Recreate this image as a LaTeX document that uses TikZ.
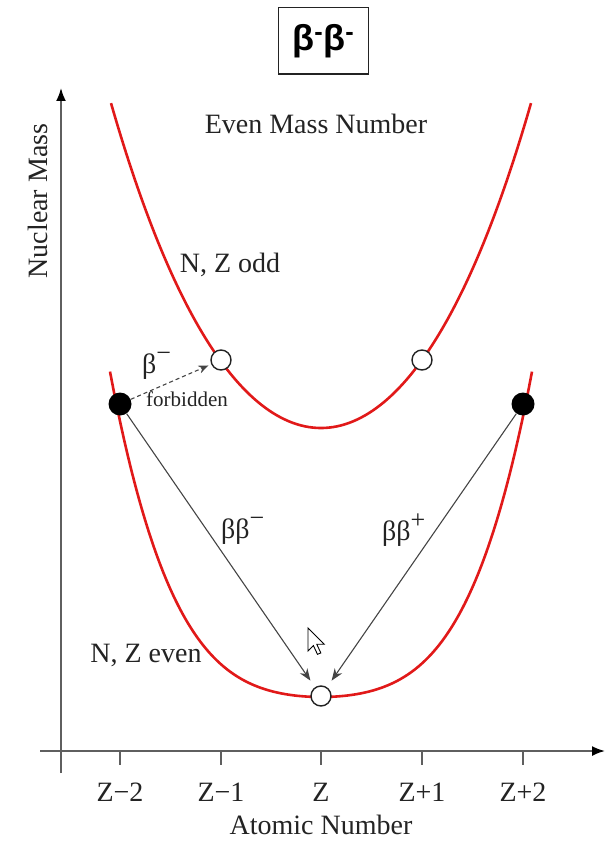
\documentclass[tikz,border=0pt]{standalone}
\usepackage{fontspec}
\setmainfont{Liberation Serif}
\newfontfamily\titlefont{Liberation Sans}
\usetikzlibrary{arrows.meta}
\definecolor{ink}{RGB}{35,35,35}
\definecolor{axisgray}{RGB}{95,95,95}
\definecolor{curvered}{RGB}{225,25,25}
\newcommand{\supminus}{\raisebox{0.42em}{\fontsize{26}{26}\selectfont −}}
\newcommand{\supplus}{\raisebox{0.42em}{\fontsize{26}{26}\selectfont +}}
\begin{document}
\begin{tikzpicture}[x=1pt,y=-1pt,
  txt/.style={text=ink, font=\fontsize{28}{32}\selectfont, inner sep=0pt},
  smalltxt/.style={text=ink, font=\fontsize{21}{24}\selectfont, inner sep=0pt},
  curve/.style={draw=curvered, line width=2.6pt},
  axisline/.style={draw=axisgray, line width=1.8pt},
  opendot/.style={circle, draw=ink, line width=1.4pt, fill=white, minimum size=20pt, inner sep=0pt},
  filldot/.style={circle, fill=black, minimum size=23pt, inner sep=0pt},
  decayarrow/.style={draw=ink!85, line width=1.1pt, -{Stealth[length=12pt,width=9pt]}, shorten >=8pt},
  forbarrow/.style={draw=ink!85, line width=1.1pt, dashed, dash pattern=on 4pt off 3pt, -{Stealth[length=10pt,width=8pt]}, shorten >=3pt},
]
\useasboundingbox (0,0) rectangle (609,842);

% title
\node[draw=ink, line width=1.3pt, minimum width=90pt, minimum height=66.7pt, inner sep=0pt] (title) at (323.3,40.7)
  {\titlefont\bfseries\fontsize{36}{40}\selectfont β\textsuperscript{-}β\textsuperscript{-}};

% axes
\coordinate (yb) at (61,773);
\coordinate (yt) at (61,88);
\coordinate (xl) at (40,751);
\coordinate (xr) at (605,751);
\draw[axisline, -{Latex[length=13pt,width=10pt,color=black]}] (yb) -- (yt);
\draw[axisline, -{Latex[length=13pt,width=10pt,color=black]}] (xl) -- (xr);
\foreach \tx/\tl in {120/Z−2, 221/Z−1, 321/Z, 422/Z+1, 523/Z+2}{
  \draw[axisline, line width=1.4pt] (\tx,751) -- (\tx,765);
  \node[txt] (tick\tx) at (\tx,792) {\tl};
}
\node[txt] (xlabel) at (321,825) {Atomic Number};
\node[txt, rotate=90] (ylabel) at (38,201) {Nuclear Mass};

% curves
\draw[curve] plot[domain=-2.10:2.10, samples=120, smooth] ({321+100*\x}, {428-64.54*\x*\x-2.07*\x*\x*\x*\x});
\draw[curve] plot[domain=-2.11:2.11, samples=120, smooth] ({321+100*\x}, {697-21*\x*\x-11.7*\x*\x*\x*\x});

% labels
\node[txt] (evenmass) at (316,124) {Even Mass Number};
\node[txt] (oddlbl) at (230,265) {N, Z odd};
\node[txt] (evenlbl) at (146,655) {N, Z even};
\node[txt, anchor=west] (betaminus) at (142,366) {β\supminus};
\node[smalltxt] (forbidden) at (187,399) {forbidden};
\node[txt, anchor=west] (bbminus) at (221,531) {ββ\supminus};
\node[txt, anchor=west] (bbplus) at (382,530) {ββ\supplus};

% nuclei
\node[opendot] (om1) at (221,360) {};
\node[opendot] (op1) at (422,360) {};
\node[opendot] (o0) at (321,696) {};
\node[filldot] (fm2) at (120,404) {};
\node[filldot] (fp2) at (523,404) {};

% decays
\draw[decayarrow] (fm2) -- (o0);
\draw[decayarrow] (fp2) -- (o0);
\draw[forbarrow] (fm2) -- (om1);

% mouse pointer
\draw[fill=white, draw=black, line width=0.9pt, shift={(308,628)}, scale=1.35]
  (0,0) -- (0,17) -- (4,13) -- (7,19.5) -- (9.5,18.5) -- (6.5,12) -- (12,12) -- cycle;
\end{tikzpicture}
\end{document}
